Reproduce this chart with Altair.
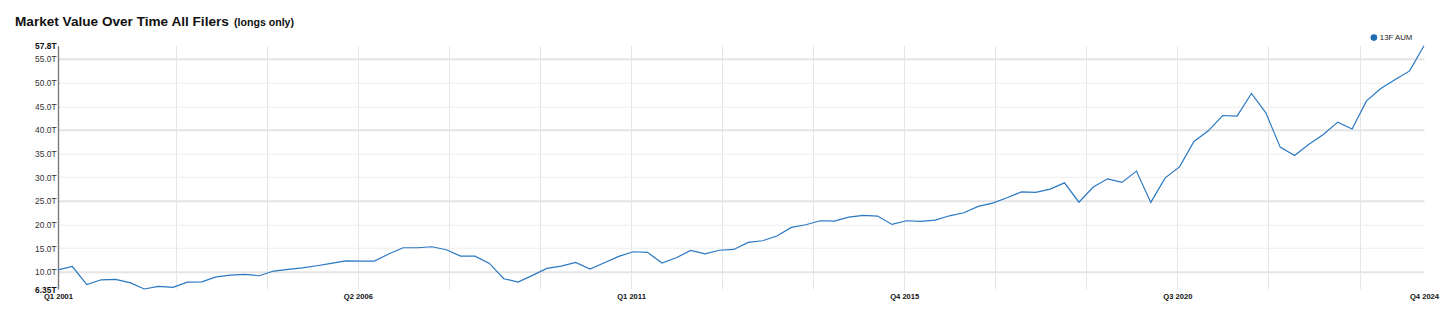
import altair as alt
import pandas as pd

# ---- data (trillions USD, quarterly 13F long market value) ----
years = list(range(2001, 2025))
quarters = [f"Q{q} {y}" for y in years for q in (1, 2, 3, 4)]
values = [
    10.4, 11.1, 7.3, 8.3, 8.4, 7.7, 6.35, 6.9, 6.7, 7.8,
    7.85, 8.9, 9.3, 9.45, 9.15, 10.15, 10.5, 10.8, 11.27, 11.77,
    12.3, 12.25, 12.25, 13.74, 15.07, 15.07, 15.28, 14.65, 13.3, 13.3,
    11.77, 8.52, 7.82, 9.23, 10.7, 11.2, 11.98, 10.57, 11.9, 13.25,
    14.23, 14.1, 11.84, 12.96, 14.5, 13.8, 14.55, 14.72, 16.2, 16.55,
    17.55, 19.38, 19.93, 20.78, 20.7, 21.55, 21.9, 21.77, 20.0, 20.78,
    20.65, 20.92, 21.83, 22.47, 23.82, 24.5, 25.64, 26.9, 26.77, 27.47,
    28.8, 24.7, 27.9, 29.65, 28.9, 31.28, 24.66, 29.86, 32.18, 37.55,
    39.8, 43.04, 42.9, 47.7, 43.6, 36.35, 34.6, 36.98, 39.03, 41.63,
    40.2, 46.13, 48.75, 50.65, 52.47, 57.8,
]
series_name = "13F AUM"
title_text = "Market Value Over Time All Filers"
subtitle_text = "(longs only)"

# x-axis tick labels (positions in quarter index units) and grid positions
x_label_pos = [0, 20.85, 39.85, 58.85, 77.85, 95]
x_label_text = ["Q1 2001", "Q2 2006", "Q1 2011", "Q4 2015", "Q3 2020", "Q4 2024"]
x_grid_pos = [8.18, 14.52, 20.85, 27.18, 33.52, 39.85, 46.18, 52.52,
              58.85, 65.18, 71.52, 77.85, 84.18, 90.52]

y_min, y_max = 6.35, 57.8
y_ticks = [6.35, 10, 15, 20, 25, 30, 35, 40, 45, 50, 55, 57.8]
y_strong = [10, 25, 40, 55]

df = pd.DataFrame({
    "i": list(range(len(values))),
    "quarter": quarters[: len(values)],
    "value": values,
    "series": [series_name] * len(values),
})

# label expression for x axis
expr = "''"
for p, t in reversed(list(zip(x_label_pos, x_label_text))):
    expr = f"abs(datum.value - {p}) < 0.01 ? '{t}' : ({expr})"

x_values = sorted(set(x_grid_pos + [x_label_pos[0], x_label_pos[-1]]))

y_label_expr = (
    f"datum.value == {y_min} ? '{y_min}T' : datum.value == {y_max} ? '{y_max}T' : "
    "format(datum.value, '.1f') + 'T'"
)
edge_test = f"datum.value == {y_min} || datum.value == {y_max}"
strong_test = " || ".join(f"datum.value == {v}" for v in y_strong)
x_edge_test = "datum.value < 1 || datum.value > 94"

FONT = "Liberation Sans"
LINE_COLOR = "#2a78c2"

line = alt.Chart(df).mark_line(strokeWidth=1.2, clip=False).encode(
    x=alt.X(
        "i:Q",
        title=None,
        scale=alt.Scale(domain=[0, len(values) - 1], nice=False, zero=False),
        axis=alt.Axis(
            values=x_values,
            labelExpr=expr,
            grid=True,
            gridColor={"condition": {"test": x_edge_test, "value": "rgba(255,255,255,0)"}, "value": "#e6e6e6"},
            gridWidth=1,
            domain=False,
            ticks=False,
            labelFont=FONT,
            labelFontSize=7.6,
            labelFontWeight="bold",
            labelColor="#111111",
            labelPadding=3,
            labelOverlap=False,
            labelBound=False,
            labelFlush=False,
            labelAlign="center",
        ),
    ),
    y=alt.Y(
        "value:Q",
        title=None,
        scale=alt.Scale(domain=[y_min, y_max], nice=False, zero=False),
        axis=alt.Axis(
            values=y_ticks,
            labelExpr=y_label_expr,
            grid=True,
            gridColor={"condition": [
                {"test": edge_test, "value": "rgba(255,255,255,0)"},
                {"test": strong_test, "value": "#e4e4e4"},
            ], "value": "#ededed"},
            gridWidth={"condition": {"test": strong_test, "value": 2}, "value": 1},
            domain=True,
            domainColor="#7a7a7a",
            domainWidth=1.4,
            ticks=False,
            labelFont=FONT,
            labelFontSize=8.4,
            labelFontWeight={"condition": {"test": edge_test, "value": "bold"}, "value": "normal"},
            labelColor={"condition": {"test": edge_test, "value": "#111111"}, "value": "#333333"},
            labelPadding=2,
            labelOverlap=False,
            labelBound=False,
            labelFlush=False,
        ),
    ),
    color=alt.Color(
        "series:N",
        scale=alt.Scale(domain=[series_name], range=[LINE_COLOR]),
        legend=alt.Legend(
            title=None,
            orient="none",
            legendX=1312,
            legendY=-12,
            symbolType="circle",
            symbolSize=44,
            symbolFillColor="#1f6cb5",
            symbolStrokeColor="#1f6cb5",
            symbolStrokeWidth=0,
            labelFont=FONT,
            labelFontSize=7.8,
            labelColor="#222222",
            labelOffset=2,
            padding=0,
        ),
    ),
)

title_mark = alt.Chart(pd.DataFrame({"t": [title_text]})).mark_text(
    align="left", baseline="alphabetic", font=FONT, fontSize=13.6,
    fontWeight="bold", color="#111111",
).encode(text="t:N", x=alt.value(-43), y=alt.value(-20))

subtitle = alt.Chart(pd.DataFrame({"t": [subtitle_text]})).mark_text(
    align="left", baseline="alphabetic", font=FONT, fontSize=10.6,
    fontWeight="bold", color="#111111",
).encode(text="t:N", x=alt.value(176), y=alt.value(-20))

chart = alt.layer(line, title_mark, subtitle).properties(
    width=1366,
    height=243.3,
    background="white",
    padding={"left": 58, "top": 45.7, "right": 32, "bottom": 26},
    autosize=alt.AutoSizeParams(type="none"),
).configure_view(stroke=None)

chart.save("out.html", embed_options={"renderer": "svg", "actions": False})
